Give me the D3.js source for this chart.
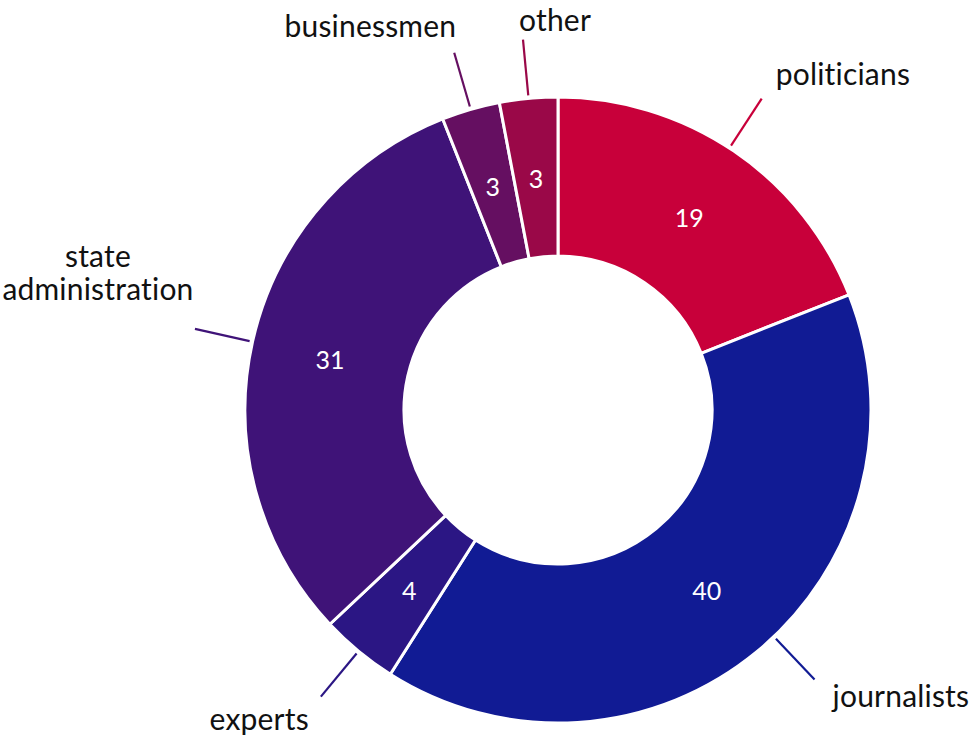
<!DOCTYPE html>
<html>
<head>
<meta charset="utf-8">
<script src="https://cdn.jsdelivr.net/npm/d3@7"></script>
<style>
  html, body { margin: 0; padding: 0; background: #fff; }
  svg { display: block; }
  .label { font-family: Lato, "Open Sans", sans-serif; font-size: 30px; fill: #111; letter-spacing: 0.2px; font-variant-ligatures: none; font-feature-settings: "liga" 0, "dlig" 0; }
  .value { font-family: Lato, "Open Sans", sans-serif; font-size: 25px; fill: #fff; text-anchor: middle; dominant-baseline: central; }
</style>
</head>
<body>
<svg id="chart" width="970" height="736"></svg>
<script>
// Share of speakers by group (clockwise from 12 o'clock)
const categories = ["politicians", "journalists", "experts", "state administration", "businessmen", "other"];
const values = [19, 40, 4, 31, 3, 3];
const colors = ["#c8003a", "#111b94", "#2b1684", "#3f1378", "#650f61", "#9a0848"];

// Label placement relative to the end of each leader line: [text, dx, dy, anchor]
const labelLayout = {
  "politicians":          { lines: [["politicians", 14, -14, "start"]], nudge: -1 },
  "journalists":          { lines: [["journalists", 18, 28, "start"]], nudge: -4 },
  "experts":              { lines: [["experts", -12, 33, "end"]], nudge: 0 },
  "state administration": { lines: [["state", -97, -62, "middle"], ["administration", -97, -29, "middle"]], nudge: 0 },
  "businessmen":          { lines: [["businessmen", 2, -16, "end"]], nudge: 0 },
  "other":                { lines: [["other", -4, -9, "start"]], nudge: 0 }
};

const cx = 558, cy = 410;
const innerR = 154, outerR = 313;
const leadStart = 316, leadEnd = 372;

const svg = d3.select("#chart");
const g = svg.append("g").attr("transform", `translate(${cx},${cy})`);

const data = categories.map((c, i) => ({ category: c, value: values[i], color: colors[i] }));

const pie = d3.pie().value(d => d.value).sort(null).startAngle(0).endAngle(2 * Math.PI);
const arcs = pie(data);

const arc = d3.arc().innerRadius(innerR).outerRadius(outerR);

g.selectAll("path.slice")
  .data(arcs)
  .join("path")
  .attr("class", "slice")
  .attr("d", arc)
  .attr("fill", d => d.data.color)
  .attr("stroke", "#fff")
  .attr("stroke-width", 3)
  .attr("stroke-linejoin", "round");

// value labels at the arc centroids
g.selectAll("text.value")
  .data(arcs)
  .join("text")
  .attr("class", "value")
  .attr("transform", d => `translate(${arc.centroid(d)})`)
  .text(d => d.data.value);

// leader lines and category labels
const pointAt = (angle, r) => [Math.sin(angle) * r, -Math.cos(angle) * r];

arcs.forEach(d => {
  const lay = labelLayout[d.data.category];
  const mid = (d.startAngle + d.endAngle) / 2 + lay.nudge * Math.PI / 180;
  const p0 = pointAt(mid, leadStart);
  const p1 = pointAt(mid, leadEnd);
  g.append("line")
    .attr("x1", p0[0]).attr("y1", p0[1])
    .attr("x2", p1[0]).attr("y2", p1[1])
    .attr("stroke", d.data.color)
    .attr("stroke-width", 2.2);
  lay.lines.forEach(([txt, dx, dy, anchor]) => {
    g.append("text")
      .attr("class", "label")
      .attr("x", p1[0] + dx)
      .attr("y", p1[1] + dy)
      .attr("text-anchor", anchor)
      .text(txt);
  });
});
</script>
</body>
</html>
